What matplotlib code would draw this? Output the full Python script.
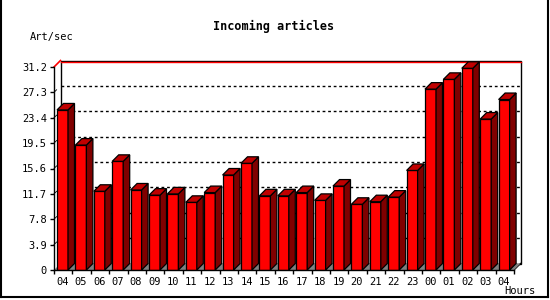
import matplotlib.pyplot as plt
from matplotlib.patches import Polygon, Rectangle
from matplotlib.lines import Line2D

# data
hours = ['04', '05', '06', '07', '08', '09', '10', '11', '12', '13', '14', '15', '16',
         '17', '18', '19', '20', '21', '22', '23', '00', '01', '02', '03', '04']
rate = [24.6, 19.2, 12.1, 16.7, 12.3, 11.5, 11.7, 10.4, 11.9, 14.6, 16.4, 11.4, 11.4,
        11.9, 10.7, 12.9, 10.1, 10.5, 11.2, 15.3, 27.8, 29.3, 31.0, 23.2, 26.2]
yticks = [0, 3.9, 7.8, 11.7, 15.6, 19.5, 23.4, 27.3, 31.2]
ymax = 31.2

W, H = 550, 300
fig = plt.figure(figsize=(5.5, 3), dpi=100)
fig.patch.set_facecolor('white')

# plot area in pixels (front plane)
x0, x1, ytop, ybot = 54, 514, 67, 270
ax = fig.add_axes([x0 / W, 1 - ybot / H, (x1 - x0) / W, (ybot - ytop) / H])
n = len(rate)
ax.set_xlim(0, n)
ax.set_ylim(0, ymax)
ax.patch.set_visible(False)

# pixel -> data conversions
px_x = n / (x1 - x0)
px_y = ymax / (ybot - ytop)
wd, hd = 6.5 * px_x, 6.5 * px_y      # wall depth
bd, bh = 6.5 * px_x, 6.5 * px_y      # bar depth

font = 'DejaVu Sans Mono'

# back wall
ax.add_patch(Rectangle((wd, hd), n, ymax, facecolor='white', edgecolor='black',
                       lw=1, clip_on=False, zorder=1))
# floor
ax.add_patch(Polygon([(0, 0), (n, 0), (n + wd, hd), (wd, hd)], closed=True,
                     facecolor='#808080', edgecolor='none', clip_on=False, zorder=1.5))
# gridlines on back wall
for v in yticks[1:-1]:
    ax.add_line(Line2D([wd, n + wd], [v + hd, v + hd], color='black', lw=1,
                       linestyle=(0, (2, 2)), clip_on=False, zorder=1.2))
    ax.add_line(Line2D([0, wd * 0.4], [v, v + hd * 0.4], color='black', lw=0.6,
                       clip_on=False, zorder=1.2))
# top line
ax.add_line(Line2D([wd, n + wd], [ymax + hd - 1.2 * px_y] * 2, color='red', lw=1,
                   clip_on=False, zorder=1.3))
ax.add_line(Line2D([0, wd], [ymax, ymax + hd], color='red', lw=1.2, clip_on=False, zorder=1.3))
ax.add_line(Line2D([n, n + wd], [0, hd], color='black', lw=1, clip_on=False, zorder=1.3))

# bars
off, bw = 3 * px_x, 11 * px_x
for i, v in enumerate(rate):
    left = i + off
    right = left + bw
    ax.bar(left, v, width=bw, align='edge', color='#ff0000', edgecolor='black',
           lw=0.9, zorder=3)
    ax.add_patch(Polygon([(right, 0), (right + bd, bh), (right + bd, v + bh), (right, v)],
                         closed=True, facecolor='#800000', edgecolor='black', lw=0.9,
                         clip_on=False, zorder=3))
    ax.add_patch(Polygon([(left, v), (right, v), (right + bd, v + bh), (left + bd, v + bh)],
                         closed=True, facecolor='#c00000', edgecolor='black', lw=0.9,
                         clip_on=False, zorder=3))

# axes and ticks
for s in ['top', 'right']:
    ax.spines[s].set_visible(False)
for s in ['left', 'bottom']:
    ax.spines[s].set_linewidth(1)
    ax.spines[s].set_zorder(4)
ax.set_yticks(yticks)
ax.set_yticklabels(['0' if t == 0 else f'{t:.1f}' for t in yticks], family=font, fontsize=7.5)
ax.set_xticks(range(n + 1))
ax.set_xticklabels([])
ax.set_xticks([i + off + bw / 2 for i in range(n)], minor=True)
ax.set_xticklabels(hours, minor=True, family=font, fontsize=7.5)
ax.tick_params(axis='both', which='major', direction='out', length=3, width=1, pad=2)
ax.tick_params(axis='x', which='minor', length=0, pad=5)

# texts
fig.text(274 / W, 1 - 26 / H, 'Incoming articles', ha='center', va='center',
         family=font, fontsize=8.5, fontweight='bold')
fig.text(30 / W, 1 - 37 / H, 'Art/sec', ha='left', va='center', family=font, fontsize=7.5)
fig.text(504 / W, 1 - 291 / H, 'Hours', ha='left', va='center', family=font, fontsize=7.5)

# frame
for xs, ys in [([1, 1], [0, 297]), ([1, 548], [297, 297]), ([548, 548], [0, 297])]:
    fig.add_artist(Line2D([x / W for x in xs], [1 - y / H for y in ys], color='black', lw=1.5))

fig.savefig('out.png', dpi=100)
plt.close(fig)
